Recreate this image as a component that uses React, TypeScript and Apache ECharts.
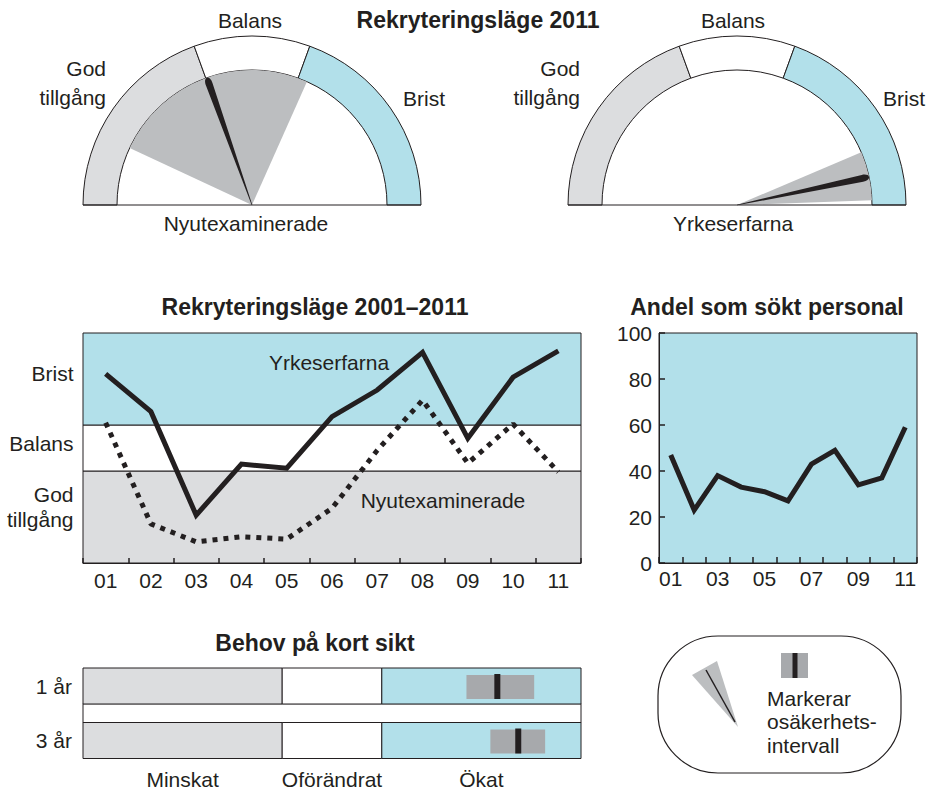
import React, { useEffect, useRef } from 'react';
import * as echarts from 'echarts';

// ---------- data ----------
const years = ['01', '02', '03', '04', '05', '06', '07', '08', '09', '10', '11'];
const bandLabels = ['God\ntillgång', 'Balans', 'Brist'];
const bandBounds = [0, 2, 3, 5];
const yrkeserfarna = [4.11, 3.29, 1.04, 2.15, 2.06, 3.18, 3.76, 4.58, 2.71, 4.04, 4.61];
const nyutexaminerade = [3.05, 0.85, 0.46, 0.57, 0.52, 1.19, 2.45, 3.54, 2.17, 3.02, 1.98];
const andelSokt = [47, 23, 38, 33, 31, 27, 43, 49, 34, 37, 59];

const gaugeNames = ['Nyutexaminerade', 'Yrkeserfarna'];
const gaugeSegments = [70, 40, 70];
const gaugeNeedle = [70.5, 168];
const gaugeLow = [25, 157];
const gaugeHigh = [114, 178];

const needRows = ['1 år', '3 år'];
const needCategories = ['Minskat', 'Oförändrat', 'Ökat'];
const needSegments = [2, 1, 2];
const needLow = [3.85, 4.09];
const needPoint = [4.16, 4.37];
const needHigh = [4.53, 4.64];

// ---------- style ----------
const INK = '#231f20';
const BLUE = '#b2e0ea';
const LIGHT = '#dcdddf';
const MID = '#bcbec0';
const BOX = '#a7a9ac';
const FONT = '"Liberation Sans", Arial, Helvetica, sans-serif';
const segColors = [LIGHT, '#ffffff', BLUE];
const gaugeCenters = [[252, 205], [737, 205]];
const R_OUT = 169;
const R_IN = 135;
const NEEDLE = 'path://M10,0 C16,0 20,4 20,10 L11,200 L9,200 L0,10 C0,4 4,0 10,0 Z';

function txt(text: string, x: number, y: number, align = 'center', extra: any = {}) {
  return {
    type: 'text', x, y, z: 100, silent: true,
    style: {
      text, fill: INK, fontSize: 21, fontFamily: FONT, align, verticalAlign: 'middle', ...extra,
    },
  };
}

function buildOption() {
  const gaugeMax = gaugeSegments.reduce((a, b) => a + b, 0);
  const series: any[] = [];

  // gauges
  gaugeNames.forEach((name, gi) => {
    gaugeSegments.forEach((v, k) => {
      series.push({
        type: 'bar', coordinateSystem: 'polar', polarIndex: gi, stack: 'ring' + gi,
        barWidth: '100%', data: [v], silent: true, z: 2,
        itemStyle: { color: segColors[k], borderColor: INK, borderWidth: 1 },
      });
    });
    series.push({
      type: 'gauge', center: gaugeCenters[gi], radius: R_IN, startAngle: 180, endAngle: 0,
      min: 0, max: gaugeMax, silent: true, z: 3,
      axisLine: {
        show: true, roundCap: false,
        lineStyle: {
          width: R_IN,
          color: [
            [gaugeLow[gi] / gaugeMax, 'rgba(0,0,0,0)'],
            [gaugeHigh[gi] / gaugeMax, MID],
            [1, 'rgba(0,0,0,0)'],
          ],
        },
      },
      progress: { show: false },
      splitLine: { show: false },
      axisTick: { show: false },
      axisLabel: { show: false },
      pointer: { show: true, icon: NEEDLE, length: R_IN, width: 7, offsetCenter: [0, 0], itemStyle: { color: INK } },
      anchor: { show: false },
      title: { show: false },
      detail: { show: false },
      data: [{ value: gaugeNeedle[gi], name }],
    });
  });

  // middle chart
  const bandOffsets = [-10.5, -5, -6];
  series.push({
    type: 'line', xAxisIndex: 0, yAxisIndex: 0, data: yrkeserfarna, symbol: 'none', z: 4,
    lineStyle: { color: INK, width: 5, join: 'miter', cap: 'butt' },
    markArea: {
      silent: true,
      data: bandLabels.map((lab, k) => [
        {
          name: lab, yAxis: bandBounds[k],
          itemStyle: { color: segColors[k], borderColor: INK, borderWidth: 1 },
          label: {
            show: true, position: 'left', distance: 9, color: INK, fontSize: 21, fontFamily: FONT,
            lineHeight: 25, offset: [0, bandOffsets[k]],
          },
        },
        { yAxis: bandBounds[k + 1] },
      ]),
    },
  });
  series.push({
    type: 'line', xAxisIndex: 0, yAxisIndex: 0, data: nyutexaminerade, symbol: 'none', z: 3,
    lineStyle: { color: INK, width: 5, type: [5, 6], cap: 'butt' },
  });

  // right chart
  series.push({
    type: 'line', xAxisIndex: 1, yAxisIndex: 1, data: andelSokt, symbol: 'none', z: 4,
    lineStyle: { color: INK, width: 5, join: 'miter', cap: 'butt' },
  });

  // bottom chart
  const needTotal = needSegments.reduce((a, b) => a + b, 0);
  const starts: number[] = [];
  needSegments.reduce((s, w) => { starts.push(s); return s + w; }, 0);
  const mids = needSegments.map((w, k) => starts[k] + w / 2);
  const segData: number[][] = [[0, needTotal, 1, -1]];
  needRows.forEach((_, r) => {
    needSegments.forEach((w, k) => segData.push([starts[k], starts[k] + w, r * 2, k]));
  });
  series.push({
    type: 'custom', xAxisIndex: 2, yAxisIndex: 2, silent: true, z: 2,
    encode: { x: [0, 1], y: 2 },
    data: segData,
    renderItem: (params: any, api: any) => {
      const a = api.coord([api.value(0), api.value(2)]);
      const b = api.coord([api.value(1), api.value(2)]);
      const k = api.value(3);
      const h = k < 0 ? 19 : 36;
      return {
        type: 'rect',
        shape: { x: a[0], y: a[1] - h / 2, width: b[0] - a[0], height: h },
        style: { fill: k < 0 ? '#ffffff' : segColors[k], stroke: INK, lineWidth: 1 },
      };
    },
  });
  series.push({
    type: 'custom', xAxisIndex: 2, yAxisIndex: 2, silent: true, z: 3,
    encode: { x: [0, 1], y: 2 },
    data: needLow.map((lo, r) => [lo, needHigh[r], r * 2]),
    renderItem: (params: any, api: any) => {
      const a = api.coord([api.value(0), api.value(2)]);
      const b = api.coord([api.value(1), api.value(2)]);
      return {
        type: 'rect',
        shape: { x: a[0], y: a[1] - 11, width: b[0] - a[0], height: 24 },
        style: { fill: BOX },
      };
    },
  });
  series.push({
    type: 'custom', xAxisIndex: 2, yAxisIndex: 2, silent: true, z: 4,
    encode: { x: 0, y: 1 },
    data: needPoint.map((p, r) => [p, r * 2]),
    renderItem: (params: any, api: any) => {
      const a = api.coord([api.value(0), api.value(1)]);
      return {
        type: 'rect',
        shape: { x: a[0] - 3, y: a[1] - 12, width: 6, height: 25 },
        style: { fill: INK },
      };
    },
  });

  const labelStyle = { color: INK, fontSize: 21, fontFamily: FONT };
  const boldTitle = { fontSize: 23, fontWeight: 'bold' };

  const graphic: any[] = [
    // titles
    txt('Rekryteringsläge 2011', 478, 20, 'center', boldTitle),
    txt('Rekryteringsläge 2001–2011', 315, 307, 'center', boldTitle),
    txt('Andel som sökt personal', 767, 307, 'center', boldTitle),
    txt('Behov på kort sikt', 315, 643, 'center', boldTitle),
    // gauge baselines
    ...gaugeCenters.map((c) => ({
      type: 'line', z: 50, silent: true,
      shape: { x1: c[0] - R_OUT, y1: c[1], x2: c[0] + R_OUT, y2: c[1] },
      style: { stroke: INK, lineWidth: 1 },
    })),
    // gauge labels left
    txt(bandLabels[1], 250, 20),
    txt(bandLabels[0], 106, 82.5, 'right', { lineHeight: 29 }),
    txt(bandLabels[2], 403, 98, 'left'),
    txt(gaugeNames[0], 246, 223),
    // gauge labels right
    txt(bandLabels[1], 733, 20),
    txt(bandLabels[0], 580, 82.5, 'right', { lineHeight: 29 }),
    txt(bandLabels[2], 883, 98, 'left'),
    txt(gaugeNames[1], 733, 223),
    // line annotations
    txt('Yrkeserfarna', 329, 362),
    txt('Nyutexaminerade', 443, 500),
    // legend
    {
      type: 'rect', z: 40, silent: true,
      shape: { x: 658, y: 636, width: 243, height: 137, r: 60 },
      style: { fill: '#ffffff', stroke: INK, lineWidth: 1.2 },
    },
    {
      type: 'polygon', z: 41, silent: true,
      shape: { points: [[692, 675], [717, 661], [738, 727]] },
      style: { fill: MID },
    },
    {
      type: 'line', z: 42, silent: true,
      shape: { x1: 706, y1: 670, x2: 735, y2: 722 },
      style: { stroke: INK, lineWidth: 1.5 },
    },
    { type: 'rect', z: 41, silent: true, shape: { x: 781, y: 653, width: 27, height: 25 }, style: { fill: BOX } },
    { type: 'rect', z: 42, silent: true, shape: { x: 792.5, y: 653, width: 5, height: 25 }, style: { fill: INK } },
    txt('Markerar\nosäkerhets-\nintervall', 767, 721.5, 'left', { lineHeight: 23.5 }),
  ];

  return {
    animation: false,
    backgroundColor: '#ffffff',
    textStyle: { fontFamily: FONT },
    polar: gaugeCenters.map((c) => ({ center: c, radius: [R_IN, R_OUT] })),
    angleAxis: gaugeCenters.map((_, i) => ({
      polarIndex: i, type: 'value', min: 0, max: gaugeMax * 2, startAngle: 180, clockwise: true, show: false,
    })),
    radiusAxis: gaugeCenters.map((_, i) => ({ polarIndex: i, type: 'category', data: ['ring'], show: false })),
    grid: [
      { left: 83, top: 333, width: 498, height: 230, show: false, outerBoundsMode: 'none' },
      {
        left: 659, top: 333, width: 258, height: 230, show: true, backgroundColor: BLUE,
        borderColor: INK, borderWidth: 1, outerBoundsMode: 'none',
      },
      { left: 83, top: 672.375, width: 498, height: 81.75, show: false, outerBoundsMode: 'none' },
    ],
    xAxis: [
      {
        gridIndex: 0, type: 'category', data: years, boundaryGap: true, z: 5,
        axisLine: { show: true, lineStyle: { color: INK, width: 1 } },
        axisTick: { show: true, inside: true, length: 5, interval: 0, lineStyle: { color: INK, width: 1.5 } },
        axisLabel: { ...labelStyle, margin: 7, interval: 0 },
        splitLine: { show: false },
      },
      {
        gridIndex: 1, type: 'category', data: years, boundaryGap: true, z: 5,
        axisLine: { show: true, lineStyle: { color: INK, width: 1 } },
        axisTick: { show: true, inside: true, length: 6, interval: 0, lineStyle: { color: INK, width: 1.5 } },
        axisLabel: { ...labelStyle, margin: 5, interval: 1 },
        splitLine: { show: false },
      },
      {
        gridIndex: 2, type: 'value', min: 0, max: needTotal, z: 5,
        axisLine: { show: false }, axisTick: { show: false }, splitLine: { show: false },
        axisLabel: {
          ...labelStyle, margin: 15, customValues: mids,
          formatter: (v: number) => {
            const i = mids.findIndex((m) => Math.abs(m - v) < 1e-6);
            return i >= 0 ? needCategories[i] : '';
          },
        },
      },
    ],
    yAxis: [
      { gridIndex: 0, type: 'value', min: bandBounds[0], max: bandBounds[bandBounds.length - 1], show: false },
      {
        gridIndex: 1, type: 'value', min: 0, max: 100, interval: 20, z: 5,
        axisLine: { show: true, lineStyle: { color: INK, width: 1 } },
        axisTick: { show: true, inside: true, length: 6, lineStyle: { color: INK, width: 1.5 } },
        axisLabel: { ...labelStyle, margin: 7 },
        splitLine: { show: false },
      },
      {
        gridIndex: 2, type: 'category', inverse: true, data: [needRows[0], '', needRows[1]], z: 5,
        axisLine: { show: false }, axisTick: { show: false }, splitLine: { show: false },
        axisLabel: { ...labelStyle, margin: 11 },
      },
    ],
    series,
    graphic,
  };
}

export default function App() {
  const ref = useRef<HTMLDivElement>(null);
  useEffect(() => {
    if (!ref.current) return;
    const chart = echarts.init(ref.current, null, { renderer: 'svg' });
    chart.setOption(buildOption() as any);
    return () => chart.dispose();
  }, []);
  return (
    <div
      ref={ref}
      style={{ position: 'fixed', left: 0, top: 0, width: 934, height: 791, background: '#ffffff' }}
    />
  );
}
